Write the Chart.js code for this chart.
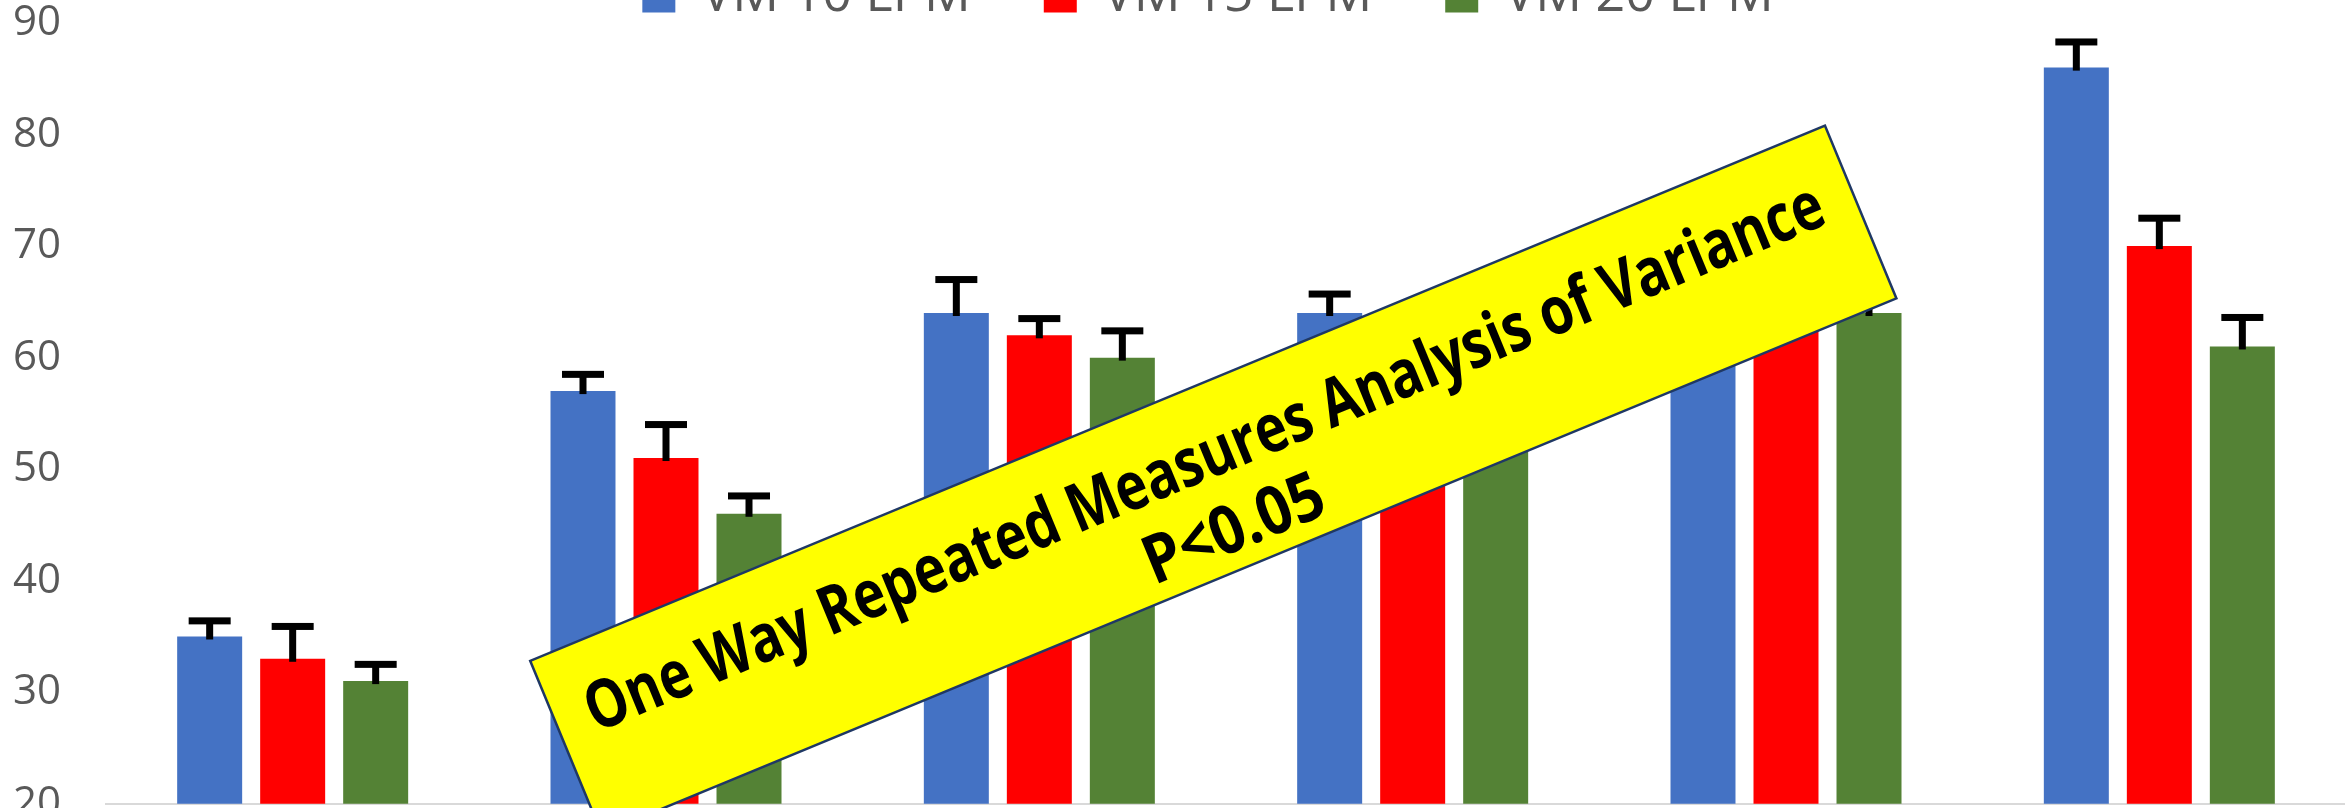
<!DOCTYPE html>
<html>
<head>
<meta charset="utf-8">
<script src="https://cdn.jsdelivr.net/npm/chart.js@4.4.1/dist/chart.umd.min.js"></script>
<style>
  html, body { margin: 0; padding: 0; background: #fff; overflow: hidden; width: 2345px; height: 808px; }
  #wrap { position: absolute; left: 0; top: -119px; }
</style>
</head>
<body>
<div id="wrap"><canvas id="chart" width="2400" height="993"></canvas></div>
<script>
// 측정 시점 (x축 라벨은 그림 밖이라 보이지 않음)
const timePoints = ['1', '2', '3', '4', '5', '6'];

// 시리즈 값
const vm10 = [35, 57, 64, 64, 68, 86];
const vm15 = [33, 51, 62, 62, 66, 70];
const vm20 = [31, 46, 60, 58, 64, 61];

// 오차 막대 (+ 방향만)
const vm10Err = [1.4, 1.5, 3, 1.7, 2, 2.3];
const vm15Err = [2.9, 3, 1.5, 2, 2, 2.5];
const vm20Err = [1.5, 1.6, 2.4, 2, 2, 2.6];

// y축 눈금
const yTicks = [20, 30, 40, 50, 60, 70, 80, 90];

// 노란 박스 글자
const noteLines = ['One Way Repeated Measures Analysis of Variance', 'P<0.05'];

const errorBars = {
  id: 'errorBars',
  afterDatasetsDraw(chart) {
    const ctx = chart.ctx;
    const y = chart.scales.y;
    ctx.save();
    ctx.fillStyle = '#000';
    chart.data.datasets.forEach(function (ds, di) {
      const meta = chart.getDatasetMeta(di);
      meta.data.forEach(function (bar, i) {
        const top = y.getPixelForValue(ds.data[i] + ds.errors[i]);
        ctx.fillRect(bar.x - 3.5, top, 7, bar.y - top + 3);
        ctx.fillRect(bar.x - 21, top - 3.5, 42, 7);
      });
    });
    ctx.restore();
  }
};

// 노란 주석 박스
const noteBox = {
  id: 'noteBox',
  afterDraw(chart) {
    const ctx = chart.ctx;
    const cx = chart.scales.x.getPixelForValue(2.466);
    const cy = chart.scales.y.getPixelForValue(49.06);
    const w = 1401, h = 187;
    ctx.save();
    ctx.translate(cx, cy);
    ctx.rotate(-22.46 * Math.PI / 180);
    ctx.fillStyle = '#ffff00';
    ctx.fillRect(-w / 2, -h / 2, w, h);
    ctx.strokeStyle = '#1f3864';
    ctx.lineWidth = 2.5;
    ctx.strokeRect(-w / 2, -h / 2, w, h);

    ctx.fillStyle = '#000';
    ctx.font = 'bold 67px "Open Sans"';
    ctx.textAlign = 'center';
    ctx.textBaseline = 'alphabetic';
    const targets = [1335, 190];
    const baselines = [-2, 75];
    noteLines.forEach(function (line, i) {
      const natural = ctx.measureText(line).width;
      ctx.save();
      ctx.translate(0, baselines[i]);
      ctx.scale(targets[i] / natural, 1);
      ctx.fillText(line, 0, 0);
      ctx.restore();
    });
    ctx.restore();
  }
};

// 범례를 원래 위치로 조금 옮김
const legendShift = {
  id: 'legendShift',
  afterLayout(chart) {
    const lg = chart.legend;
    lg.top += 9;
    lg.bottom += 9;
    lg.left += 35;
    lg.right += 35;
  }
};

new Chart(document.getElementById('chart'), {
  type: 'bar',
  data: {
    labels: timePoints,
    datasets: [
      { label: 'VM 10 LPM', data: vm10, errors: vm10Err, backgroundColor: '#4472C4' },
      { label: 'VM 15 LPM', data: vm15, errors: vm15Err, backgroundColor: '#FF0000' },
      { label: 'VM 20 LPM', data: vm20, errors: vm20Err, backgroundColor: '#548235' }
    ]
  },
  options: {
    responsive: false,
    animation: false,
    categoryPercentage: 0.667,
    barPercentage: 0.783,
    layout: { padding: { left: 0, right: 54, top: 7, bottom: 49 } },
    plugins: {
      legend: {
        position: 'top',
        labels: {
          boxWidth: 33,
          boxHeight: 33,
          padding: 73,
          color: '#595959',
          font: { family: '"Open Sans"', size: 52 }
        }
      },
      tooltip: { enabled: false }
    },
    scales: {
      x: {
        grid: { display: false, drawTicks: false },
        border: { display: true, color: '#d9d9d9', width: 2 },
        ticks: { display: false },
        afterFit(scale) { scale.height = 0; }
      },
      y: {
        min: 20,
        max: 90,
        afterBuildTicks(scale) { scale.ticks = yTicks.map(v => ({ value: v })); },
        grid: { display: false, drawTicks: false },
        border: { display: false },
        ticks: {
          padding: 45,
          color: '#595959',
          font: { family: '"Open Sans"', size: 42 }
        },
        afterFit(scale) { scale.width = 106; }
      }
    }
  },
  plugins: [errorBars, noteBox, legendShift]
});
</script>
</body>
</html>
